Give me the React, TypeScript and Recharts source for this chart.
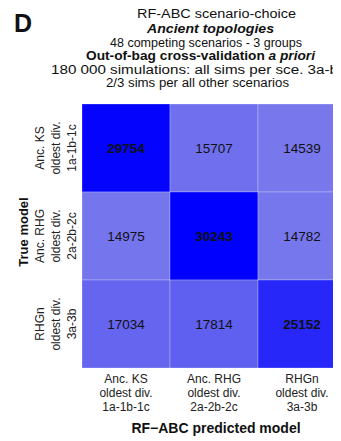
import React from 'react';
import { BarChart, Bar, XAxis, YAxis, Cell, LabelList } from 'recharts';

// model labels (3 lines each), same order on both axes
const predictedModels = [
  ['Anc. KS', 'oldest div.', '1a-1b-1c'],
  ['Anc. RHG', 'oldest div.', '2a-2b-2c'],
  ['RHGn', 'oldest div.', '3a-3b'],
];
const trueModels = [
  ['Anc. KS', 'oldest div.', '1a-1b-1c'],
  ['Anc. RHG', 'oldest div.', '2a-2b-2c'],
  ['RHGn', 'oldest div.', '3a-3b'],
];

// confusion matrix rows: true model -> counts per predicted model
const countsKS = [29754, 15707, 14539];
const countsRHG = [14975, 30243, 14782];
const countsRHGn = [17034, 17814, 25152];
const counts = [countsKS, countsRHG, countsRHGn];

const titleLines = [
  'RF-ABC scenario-choice',
  'Ancient topologies',
  '48 competing scenarios - 3 groups',
  'Out-of-bag cross-validation ',
  '180 000 simulations: all sims per sce. 3a-b',
  '2/3 sims per all other scenarios',
];
// title line placement (left x, center y, width) in px
const titleLayout = [
  [129, 6, 159],
  [139, 20.7, 127],
  [102, 34.7, 192],
  [78, 48, 229],
  [43, 61.7, 287],
  [98, 75, 183],
];

const FONT = '"Liberation Sans", Arial, sans-serif';
const maxCount = Math.max(...counts.flat());

const tileColor = (v: number) => {
  const t = 1 - v / maxCount;
  const r = Math.round(232 * t);
  const b = Math.round(255 - 36 * t);
  return `rgb(${r},${r},${b})`;
};

// every tile spans one unit of the predicted-model axis
const rows = trueModels.map((m, i) => {
  const row: Record<string, any> = { model: m.join(' '), idx: i };
  predictedModels.forEach((_, j) => {
    row[`p${j}`] = 1;
  });
  return row;
});

const YTick = (props: any) => {
  const { x, y, payload } = props;
  const i = rows.findIndex((r) => r.model === payload.value);
  const lines = trueModels[i] || [];
  return (
    <g>
      {lines.map((l, k) => {
        const cx = x - 42 + 16 * k;
        return (
          <text
            key={k}
            x={cx}
            y={y}
            transform={`rotate(-90 ${cx} ${y})`}
            textAnchor="middle"
            dominantBaseline="central"
            fontSize={12}
            fontFamily={FONT}
            fill="#222"
          >
            {l}
          </text>
        );
      })}
    </g>
  );
};

const XTick = (props: any) => {
  const { x, y, payload } = props;
  const lines = predictedModels[Math.floor(payload.value)] || [];
  return (
    <g>
      {lines.map((l, k) => (
        <text
          key={k}
          x={x}
          y={y + 10.6 + 14.2 * k}
          textAnchor="middle"
          dominantBaseline="central"
          fontSize={12}
          fontFamily={FONT}
          fill="#222"
        >
          {l}
        </text>
      ))}
    </g>
  );
};

const makeLabel = (j: number) => (props: any) => {
  const { x, y, width, height, index } = props;
  const v = counts[index][j];
  return (
    <text
      x={x + width / 2}
      y={y + height / 2}
      textAnchor="middle"
      dominantBaseline="central"
      fontSize={13.5}
      fontFamily={FONT}
      fontWeight={index === j ? 'bold' : 'normal'}
      fill="#111"
    >
      {v}
    </text>
  );
};

export default function App() {
  return (
    <div style={{ position: 'relative', width: 333, height: 433, overflow: 'hidden', fontFamily: FONT }}>
      <BarChart
        width={345}
        height={433}
        data={rows}
        layout="vertical"
        margin={{ top: 96, right: 7, left: 0, bottom: 0 }}
        barCategoryGap={0}
      >
        <XAxis
          type="number"
          domain={[0, predictedModels.length]}
          ticks={predictedModels.map((_, j) => j + 0.5)}
          interval={0}
          tick={<XTick />}
          tickLine={false}
          axisLine={false}
          tickSize={0}
          tickMargin={0}
          height={73}
        />
        <YAxis
          type="category"
          dataKey="model"
          width={74}
          tick={<YTick />}
          tickLine={false}
          axisLine={false}
          tickSize={0}
          tickMargin={0}
        />
        {predictedModels.map((_, j) => (
          <Bar
            key={j}
            dataKey={`p${j}`}
            stackId="tiles"
            isAnimationActive={false}
            stroke="#ffffff"
            strokeOpacity={0.25}
            strokeWidth={1}
          >
            {rows.map((r, i) => (
              <Cell key={i} fill={tileColor(counts[i][j])} />
            ))}
            <LabelList dataKey={`p${j}`} content={makeLabel(j)} />
          </Bar>
        ))}
      </BarChart>

      <svg
        width={333}
        height={433}
        style={{ position: 'absolute', left: 0, top: 0, pointerEvents: 'none', overflow: 'visible' }}
      >
        <text x={6} y={23.5} fontSize={25} fontWeight="bold" fontFamily={FONT} fill="#111">
          D
        </text>
        {titleLines.map((l, k) => (
          <text
            key={k}
            x={titleLayout[k][0]}
            y={titleLayout[k][1]}
            textLength={titleLayout[k][2]}
            lengthAdjust="spacingAndGlyphs"
            textAnchor="start"
            dominantBaseline="central"
            fontSize={12.5}
            fontFamily={FONT}
            fontWeight={k === 1 || k === 3 ? 'bold' : 'normal'}
            fontStyle={k === 1 ? 'italic' : 'normal'}
            fill="#111"
          >
            {l}
            {k === 3 && <tspan fontStyle="italic">a priori</tspan>}
          </text>
        ))}
        <text
          x={15.3}
          y={224}
          transform="rotate(-90 15.3 224)"
          textAnchor="middle"
          dominantBaseline="central"
          fontSize={13}
          fontWeight="bold"
          fontFamily={FONT}
          fill="#111"
        >
          True model
        </text>
        <text
          x={208}
          y={420.3}
          textAnchor="middle"
          dominantBaseline="central"
          fontSize={14}
          fontWeight="bold"
          fontFamily={FONT}
          fill="#111"
        >
          RF−ABC predicted model
        </text>
      </svg>
    </div>
  );
}
